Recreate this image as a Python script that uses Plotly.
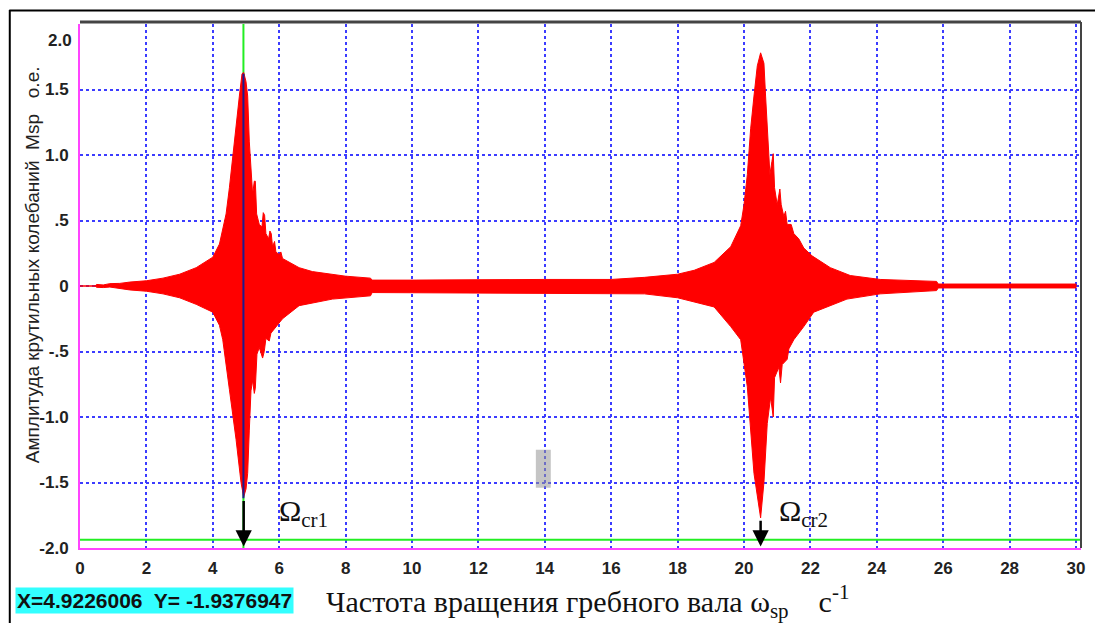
import plotly.graph_objects as go

# Upper envelope of the torsional oscillation amplitude
x_upper = [0.0, 0.45, 0.5, 0.7, 0.9, 1.2, 1.5, 2.0, 2.5, 3.0, 3.5, 4.0, 4.2, 4.4, 4.5, 4.6, 4.7, 4.8,
           4.88, 4.93, 5.0, 5.05, 5.1, 5.15, 5.2, 5.25, 5.28, 5.32, 5.4, 5.48, 5.52, 5.56, 5.6, 5.68,
           5.72, 5.76, 5.8, 5.86, 5.9, 6.0, 6.05, 6.1, 6.3, 6.6, 7.0, 7.6, 8.0, 8.75, 8.8, 10.0, 12.0,
           14.0, 16.0, 17.0, 18.0, 18.5, 19.1, 19.6, 19.9, 20.0, 20.1, 20.2, 20.3, 20.4, 20.5, 20.6,
           20.65, 20.72, 20.78, 20.84, 20.88, 20.92, 21.0, 21.08, 21.12, 21.2, 21.25, 21.3, 21.42,
           21.5, 21.65, 21.8, 22.05, 22.6, 23.2, 24.1, 25.8, 25.85, 30.0]
y_upper = [0.0, 0.0, 0.012, 0.008, 0.018, 0.02, 0.03, 0.04, 0.06, 0.09, 0.14, 0.22, 0.32, 0.55, 0.75,
           1.0, 1.22, 1.45, 1.62, 1.63, 1.56, 1.45, 1.1, 0.85, 0.7, 0.8, 0.8, 0.55, 0.47, 0.45, 0.56,
           0.54, 0.40, 0.36, 0.42, 0.40, 0.30, 0.34, 0.26, 0.24, 0.26, 0.21, 0.18, 0.14, 0.11, 0.09,
           0.075, 0.06, 0.045, 0.045, 0.05, 0.05, 0.05, 0.066, 0.09, 0.12, 0.18, 0.30, 0.46, 0.62,
           0.85, 1.2, 1.45, 1.68, 1.78, 1.7, 1.45, 1.1, 0.85, 0.95, 1.01, 0.75, 0.62, 0.74, 0.62,
           0.53, 0.57, 0.47, 0.47, 0.40, 0.36, 0.29, 0.23, 0.14, 0.08, 0.05, 0.035, 0.015, 0.015]

# Lower envelope
x_lower = [0.0, 0.45, 0.5, 0.7, 0.9, 1.2, 1.5, 2.0, 2.5, 3.0, 3.5, 4.0, 4.2, 4.3, 4.5, 4.7, 4.85,
           4.93, 5.0, 5.05, 5.1, 5.15, 5.2, 5.25, 5.28, 5.33, 5.4, 5.5, 5.55, 5.6, 5.7, 5.75, 5.85,
           6.1, 6.6, 7.6, 8.75, 8.8, 17.0, 18.0, 19.1, 19.6, 19.9, 20.0, 20.1, 20.3, 20.5, 20.6,
           20.7, 20.8, 20.88, 20.92, 21.05, 21.1, 21.15, 21.3, 21.35, 21.5, 21.8, 22.1, 23.1, 24.1,
           25.8, 25.85, 30.0]
y_lower = [0.0, 0.0, -0.01, -0.012, -0.008, -0.02, -0.03, -0.04, -0.06, -0.09, -0.14, -0.2, -0.3,
           -0.41, -0.79, -1.17, -1.5, -1.61, -1.55, -1.43, -1.1, -0.8, -0.72, -0.82, -0.78, -0.52,
           -0.47, -0.55, -0.5, -0.4, -0.42, -0.36, -0.33, -0.25, -0.15, -0.1, -0.075, -0.05, -0.06,
           -0.09, -0.16, -0.31, -0.41, -0.6, -0.77, -1.43, -1.77, -1.5, -1.05, -0.85, -1.0, -0.7,
           -0.62, -0.74, -0.6, -0.56, -0.48, -0.41, -0.31, -0.2, -0.1, -0.06, -0.035, -0.015, -0.015]

x_ticks = [0, 2, 4, 6, 8, 10, 12, 14, 16, 18, 20, 22, 24, 26, 28, 30]
y_tickvals = [1.5, 1.0, 0.5, 0.0, -0.5, -1.0, -1.5, -2.0]
y_ticktext = ["1.5", "1.0", ".5", "0", "-.5", "-1.0", "-1.5", "-2.0"]

cursor_x = 4.9226006
cursor_y = -1.9376947
crit_x = [4.93, 20.5]
crit_top = [-1.63, -1.78]
crit_label_x = [5.93, 21.0]
crit_labels = ["Ω<sub>cr1</sub>", "Ω<sub>cr2</sub>"]

# plot-area pixel geometry
L, R, T, B = 80, 1085, 24, 548
XR = [0, 30.15]
YR = [-2.0, 2.0]
Y_PER_PX = (YR[1] - YR[0]) / (B - T)

def px(xp):
    return (xp - L) / (R - L)

def py(yp):
    return (B - yp) / (B - T)

sans = "Liberation Sans, Arial, sans-serif"
tick_font = dict(family=sans, size=17, color="#222222", weight="bold")
serif = "Liberation Serif, DejaVu Serif, serif"

fig = go.Figure()

poly_x = list(x_upper) + list(reversed(x_lower))
poly_y = list(y_upper) + list(reversed(y_lower))
fig.add_trace(go.Scatter(x=poly_x, y=poly_y, mode="lines", fill="toself",
                         fillcolor="#ff0000", line=dict(color="#ff0000", width=1),
                         hoverinfo="skip", showlegend=False))

shapes = []
shapes.append(dict(type="line", xref="x", yref="y", x0=cursor_x, x1=cursor_x, y0=-2.0, y1=2.0,
                   line=dict(color="#22ee22", width=2), layer="below"))
shapes.append(dict(type="line", xref="paper", yref="y", x0=0, x1=1, y0=cursor_y, y1=cursor_y,
                   line=dict(color="#22ee22", width=2), layer="above"))
shapes.append(dict(type="line", xref="x", yref="y", x0=cursor_x, x1=cursor_x, y0=-1.62, y1=1.62,
                   line=dict(color="#1a1a90", width=2), layer="above"))
shapes.append(dict(type="rect", xref="x", yref="y", x0=13.73, x1=14.18, y0=-1.54, y1=-1.25,
                   fillcolor="rgba(150,150,150,0.55)", line=dict(width=0), layer="above"))
shapes.append(dict(type="line", xref="paper", yref="paper", x0=0, x1=1, y0=1.004, y1=1.004,
                   line=dict(color="#444444", width=3)))
shapes.append(dict(type="line", xref="paper", yref="paper", x0=1, x1=1, y0=0, y1=1.004,
                   line=dict(color="#444444", width=2)))
shapes.append(dict(type="line", xref="paper", yref="paper", x0=px(9), x1=px(1100), y0=py(10.5), y1=py(10.5),
                   line=dict(color="#000000", width=2)))
shapes.append(dict(type="line", xref="paper", yref="paper", x0=px(9.5), x1=px(9.5), y0=py(10), y1=py(630),
                   line=dict(color="#000000", width=2)))

annotations = []
for cx, ct, lx, lab in zip(crit_x, crit_top, crit_label_x, crit_labels):
    annotations.append(dict(x=cx, y=YR[0] + 1.5 * Y_PER_PX, ax=cx, ay=ct, xref="x", yref="y",
                            axref="x", ayref="y",
                            showarrow=True, arrowhead=2, arrowsize=1.3, arrowwidth=2.5,
                            arrowcolor="#000000", text=""))
    annotations.append(dict(x=lx, y=-1.73, xref="x", yref="y", text=lab, showarrow=False,
                            xanchor="left", yanchor="middle",
                            font=dict(family=serif, size=30, color="#111111")))

annotations.append(dict(x=px(74), y=py(40), xref="paper", yref="paper", text="2.0", showarrow=False,
                        xanchor="right", yanchor="middle", font=tick_font))
annotations.append(dict(x=px(32), y=py(265), xref="paper", yref="paper", textangle=-90,
                        text="Амплитуда крутильных колебаний  Msp   о.е.", showarrow=False,
                        xanchor="center", yanchor="middle",
                        font=dict(family=sans, size=19, color="#222222")))
annotations.append(dict(x=px(15), y=py(600), xref="paper", yref="paper",
                        text="X=4.9226006  Y= -1.9376947", showarrow=False,
                        xanchor="left", yanchor="middle", bgcolor="#33ffff", borderpad=1,
                        font=dict(family=sans, size=21, color="#111111", weight="bold")))
annotations.append(dict(x=px(325), y=py(601), xref="paper", yref="paper",
                        text="Частота вращения гребного вала ω<sub>sp</sub>    c<sup>-1</sup>",
                        showarrow=False, xanchor="left", yanchor="middle",
                        font=dict(family=serif, size=30, color="#111111")))

fig.update_layout(
    width=1095, height=623,
    margin=dict(l=L, r=1095 - R, t=T, b=623 - B, pad=0),
    paper_bgcolor="#ffffff", plot_bgcolor="#ffffff",
    showlegend=False,
    shapes=shapes, annotations=annotations,
    xaxis=dict(range=XR, tickvals=x_ticks, ticktext=[str(t) for t in x_ticks],
               showgrid=True, gridcolor="#3c3cff", griddash="dot", gridwidth=1.5,
               zeroline=False, showline=True, linecolor="#ff44ff", linewidth=2,
               ticks="", tickfont=tick_font, ticklabelstandoff=4, fixedrange=True),
    yaxis=dict(range=YR, tickvals=y_tickvals, ticktext=y_ticktext,
               showgrid=True, gridcolor="#3c3cff", griddash="dot", gridwidth=1.5,
               zeroline=False, showline=True, linecolor="#ff44ff", linewidth=2,
               ticks="", tickfont=tick_font, ticklabelstandoff=6, fixedrange=True),
)

fig.write_html("out.html", config={"displayModeBar": False},
               post_script="document.body.style.margin='0';")
